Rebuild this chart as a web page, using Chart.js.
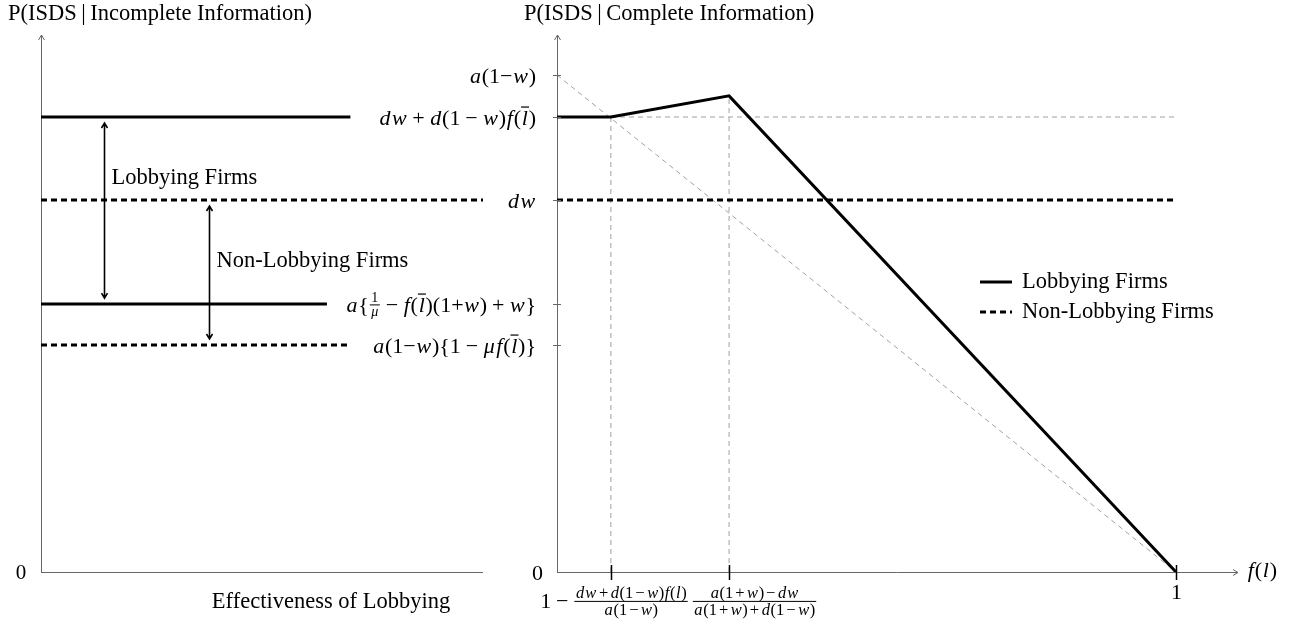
<!DOCTYPE html>
<html>
<head>
<meta charset="utf-8">
<script src="https://cdn.jsdelivr.net/npm/chart.js@4.4.0/dist/chart.umd.min.js"></script>
<style>
  html, body { margin: 0; padding: 0; background: #fff; }
  #caja { position: relative; width: 1293px; height: 623px; }
  canvas { position: absolute; left: 0; top: 0; }
</style>
</head>
<body>
<div id="caja">
  <canvas id="izq" width="1293" height="623"></canvas>
  <canvas id="der" width="1293" height="623"></canvas>
</div>
<script>
// ---- datos, panel izquierdo (información incompleta) ----
let nivelesIzq = [0.9155, 0.7485, 0.539, 0.4567];
let finIzq = [0.70, 1.0, 0.647, 0.70];
let lobbyIzq = [true, false, true, false];
let flechasX = [0.1425, 0.38];
let flechasDesde = [0.9155, 0.7485];
let flechasHasta = [0.539, 0.4567];
let flechasTexto = ["Lobbying Firms", "Non-Lobbying Firms"];

// ---- datos, panel derecho (información completa) ----
let lobbyX = [0, 0.087, 0.278, 1];
let lobbyY = [0.9155, 0.9155, 0.958, 0];
let noLobbyX = [0, 1];
let noLobbyY = [0.7485, 0.7485];
let diagX = [0, 1];
let diagY = [1, 0];
let yTicks = [1, 0.9155, 0.7485, 0.539, 0.4567, 0];
// "^" = barra sobre la letra siguiente; {n, d, s} = fracción
let yEtiquetas = [
  ["a(1−w)"],
  ["dw + d(1 − w)f(^l)"],
  ["dw"],
  ["a{", { n: "1", d: "μ", s: 14 }, " − f(^l)(1+w) + w}"],
  ["a(1−w){1 − μf(^l)}"],
  ["0"]
];
let xTicks = [0.087, 0.278, 1];
let xEtiquetas = [
  ["1 − ", { n: "dw+d(1−w)f(l)", d: "a(1−w)", s: 16.5 }],
  [{ n: "a(1+w)−dw", d: "a(1+w)+d(1−w)", s: 16.5 }],
  ["1"]
];
let xDesplaza = [3, 25, 0];
let series = ["Lobbying Firms", "Non-Lobbying Firms"];

const SERIF = '"Liberation Serif", "Times New Roman", serif';
const TEXTO = "22.5px " + SERIF;
const GRIS = "#a0a0a0";

function puntos(xs, ys) {
  return xs.map((x, i) => ({ x: x, y: ys[i] }));
}

// texto matemático sencillo: letras en cursiva, el resto recto
function esLetra(ch) { return /[a-zA-Zμ]/.test(ch); }
function fuente(ch, size) {
  return (esLetra(ch) ? "italic " : "") + size + "px " + SERIF;
}
// ancho de un carácter con el espaciado extra (letras y operadores pequeños)
function anchoCar(ctx, ch, size) {
  ctx.font = fuente(ch, size);
  let w = ctx.measureText(ch).width;
  let antes = 0;
  if (esLetra(ch)) { antes = size * 0.035; w += size * 0.07; }
  if (size < 18 && (ch === "+" || ch === "−")) { antes = size * 0.12; w += size * 0.24; }
  return { w, antes };
}
function anchoCad(ctx, s, size) {
  let w = 0;
  for (const ch of s) {
    if (ch === "^") continue;
    if (ch === " ") { w += size * 0.22; continue; }
    w += anchoCar(ctx, ch, size).w;
  }
  return w;
}
function pintaCad(ctx, s, x, y, size) {
  let barra = false;
  for (const ch of s) {
    if (ch === "^") { barra = true; continue; }
    if (ch === " ") { x += size * 0.22; continue; }
    const m = anchoCar(ctx, ch, size);
    ctx.font = fuente(ch, size);
    ctx.fillText(ch, x + m.antes, y);
    if (barra) {
      ctx.fillRect(x, y - size * 0.82, m.w * 1.05, 1.2);
      barra = false;
    }
    x += m.w;
  }
}
function anchoPieza(ctx, p, size) {
  if (typeof p === "string") return anchoCad(ctx, p, size);
  return Math.max(anchoCad(ctx, p.n, p.s), anchoCad(ctx, p.d, p.s)) + 4;
}
function pintaRico(ctx, piezas, x, y, size, alinea) {
  const total = piezas.reduce((a, p) => a + anchoPieza(ctx, p, size), 0);
  if (alinea === "right") x -= total;
  else if (alinea === "center") x -= total / 2;
  ctx.textAlign = "left";
  ctx.textBaseline = "alphabetic";
  piezas.forEach(p => {
    const w = anchoPieza(ctx, p, size);
    if (typeof p === "string") {
      pintaCad(ctx, p, x, y, size);
    } else {
      const eje = y - size * 0.3;
      const wn = anchoCad(ctx, p.n, p.s);
      const wd = anchoCad(ctx, p.d, p.s);
      pintaCad(ctx, p.n, x + (w - wn) / 2, eje - 3, p.s);
      pintaCad(ctx, p.d, x + (w - wd) / 2, eje + p.s * 0.8, p.s);
      ctx.fillRect(x + 1, eje - 0.5, w - 2, 1);
    }
    x += w;
  });
}

function ejes(ctx, a, flechaX) {
  ctx.save();
  ctx.strokeStyle = "#666";
  ctx.lineWidth = 1;
  ctx.beginPath();
  ctx.moveTo(a.left + 0.5, a.bottom + 0.5);
  ctx.lineTo(a.left + 0.5, a.top);
  ctx.moveTo(a.left, a.bottom + 0.5);
  ctx.lineTo(a.right, a.bottom + 0.5);
  ctx.moveTo(a.left - 2.5, a.top + 5);
  ctx.lineTo(a.left + 0.5, a.top);
  ctx.lineTo(a.left + 3.5, a.top + 5);
  if (flechaX) {
    ctx.moveTo(a.right - 5, a.bottom - 2.5);
    ctx.lineTo(a.right, a.bottom + 0.5);
    ctx.lineTo(a.right - 5, a.bottom + 3.5);
  }
  ctx.stroke();
  ctx.restore();
}

function flechaDoble(ctx, x, y1, y2) {
  ctx.beginPath();
  ctx.moveTo(x, y1); ctx.lineTo(x, y2);
  ctx.moveTo(x - 3, y1 + 5); ctx.lineTo(x, y1); ctx.lineTo(x + 3, y1 + 5);
  ctx.moveTo(x - 3, y2 - 5); ctx.lineTo(x, y2); ctx.lineTo(x + 3, y2 - 5);
  ctx.stroke();
}

function escalas(xmax) {
  return {
    x: { type: "linear", min: 0, max: xmax, grid: { display: false }, ticks: { display: false },
         border: { display: false }, afterFit: s => { s.height = 0; } },
    y: { type: "linear", min: 0, max: 1.0805, grid: { display: false }, ticks: { display: false },
         border: { display: false }, afterFit: s => { s.width = 0; } }
  };
}

function linea(datos, negra, discontinua) {
  return {
    data: datos,
    showLine: true,
    borderColor: negra ? "#000" : GRIS,
    borderWidth: negra ? 3 : 1,
    borderDash: discontinua ? (negra ? [6, 4] : [5, 4]) : [],
    pointRadius: 0,
    fill: false,
    tension: 0
  };
}

// ---- panel izquierdo ----
const dibujoIzq = {
  id: "dibujoIzq",
  beforeDatasetsDraw(chart) {
    ejes(chart.ctx, chart.chartArea, false);
  },
  afterDraw(chart) {
    const ctx = chart.ctx, a = chart.chartArea;
    const sx = chart.scales.x, sy = chart.scales.y;
    ctx.save();
    ctx.fillStyle = "#000";
    ctx.strokeStyle = "#000";
    ctx.lineWidth = 1.6;
    flechasX.forEach((fx, i) => {
      const px = Math.round(sx.getPixelForValue(fx)) + 0.5;
      const y1 = sy.getPixelForValue(flechasDesde[i]) + 6;
      const y2 = sy.getPixelForValue(flechasHasta[i]) - 6;
      flechaDoble(ctx, px, y1, y2);
      ctx.font = TEXTO;
      ctx.textAlign = "left";
      ctx.textBaseline = "middle";
      ctx.fillText(flechasTexto[i], px + 7, y1 + 55);
    });
    ctx.font = TEXTO;
    ctx.textAlign = "left";
    ctx.textBaseline = "alphabetic";
    ctx.fillText("P(ISDS\u2009|\u2009Incomplete Information)", a.left - 33, 20);
    ctx.textAlign = "center";
    ctx.fillText("Effectiveness of Lobbying", a.left + 290, a.bottom + 36);
    pintaRico(ctx, ["0"], a.left - 20, a.bottom + 7, 21, "center");
    ctx.restore();
  }
};

new Chart(document.getElementById("izq"), {
  type: "scatter",
  data: {
    datasets: nivelesIzq.map((v, i) =>
      linea(puntos([0, finIzq[i]], [v, v]), true, !lobbyIzq[i]))
  },
  options: {
    responsive: false,
    animation: false,
    layout: { padding: { left: 41, right: 810, top: 35, bottom: 51 } },
    scales: escalas(1),
    plugins: { legend: { display: false }, tooltip: { enabled: false } }
  },
  plugins: [dibujoIzq]
});

// ---- panel derecho ----
const dibujoDer = {
  id: "dibujoDer",
  beforeDatasetsDraw(chart) {
    ejes(chart.ctx, chart.chartArea, true);
  },
  afterDraw(chart) {
    const ctx = chart.ctx, a = chart.chartArea;
    const sx = chart.scales.x, sy = chart.scales.y;
    ctx.save();
    ctx.fillStyle = "#000";
    // marcas y etiquetas del eje y
    ctx.strokeStyle = "#666";
    ctx.lineWidth = 1;
    yTicks.forEach((v, i) => {
      const py = Math.round(sy.getPixelForValue(v)) + 0.5;
      if (v !== 0) {
        ctx.beginPath();
        ctx.moveTo(a.left - 4, py); ctx.lineTo(a.left + 4, py);
        ctx.stroke();
      }
      const derecha = v === 0 ? a.left - 14 : a.left - 21;
      pintaRico(ctx, yEtiquetas[i], derecha, py + 7, 22, "right");
    });
    // marcas y etiquetas del eje x
    ctx.strokeStyle = "#000";
    ctx.lineWidth = 1.5;
    xTicks.forEach((v, i) => {
      const px = Math.round(sx.getPixelForValue(v)) + 0.5;
      ctx.beginPath();
      ctx.moveTo(px, a.bottom - 7); ctx.lineTo(px, a.bottom + 8);
      ctx.stroke();
      const conFrac = xEtiquetas[i].some(p => typeof p !== "string");
      pintaRico(ctx, xEtiquetas[i], px + xDesplaza[i], a.bottom + (conFrac ? 36 : 27), 22, "center");
    });
    pintaRico(ctx, ["f(l)"], a.right + 9, a.bottom + 5, 22, "left");
    // título
    ctx.font = TEXTO;
    ctx.textAlign = "left";
    ctx.textBaseline = "alphabetic";
    ctx.fillText("P(ISDS\u2009|\u2009Complete Information)", a.left - 33, 20);
    // leyenda
    const lx = a.left + 423, ly = a.top + 247;
    series.forEach((nombre, i) => {
      const y = ly + i * 30;
      ctx.strokeStyle = "#000";
      ctx.lineWidth = 3;
      ctx.setLineDash(i === 0 ? [] : [6, 4]);
      ctx.beginPath();
      ctx.moveTo(lx, y); ctx.lineTo(lx + 32, y);
      ctx.stroke();
      ctx.setLineDash([]);
      ctx.font = TEXTO;
      ctx.textBaseline = "middle";
      ctx.fillText(nombre, lx + 42, y);
    });
    ctx.restore();
  }
};

new Chart(document.getElementById("der"), {
  type: "scatter",
  data: {
    datasets: [
      linea(puntos(lobbyX, lobbyY), true, false),
      linea(puntos(noLobbyX, noLobbyY), true, true),
      linea(puntos(diagX, diagY), false, true),
      linea(puntos([0, 1], [lobbyY[0], lobbyY[0]]), false, true),
      linea(puntos([lobbyX[1], lobbyX[1]], [0, lobbyY[1]]), false, true),
      linea(puntos([lobbyX[2], lobbyX[2]], [0, lobbyY[2]]), false, true)
    ]
  },
  options: {
    responsive: false,
    animation: false,
    layout: { padding: { left: 557, right: 55, top: 35, bottom: 51 } },
    scales: escalas(1.1002),
    plugins: { legend: { display: false }, tooltip: { enabled: false } }
  },
  plugins: [dibujoDer]
});
</script>
</body>
</html>
